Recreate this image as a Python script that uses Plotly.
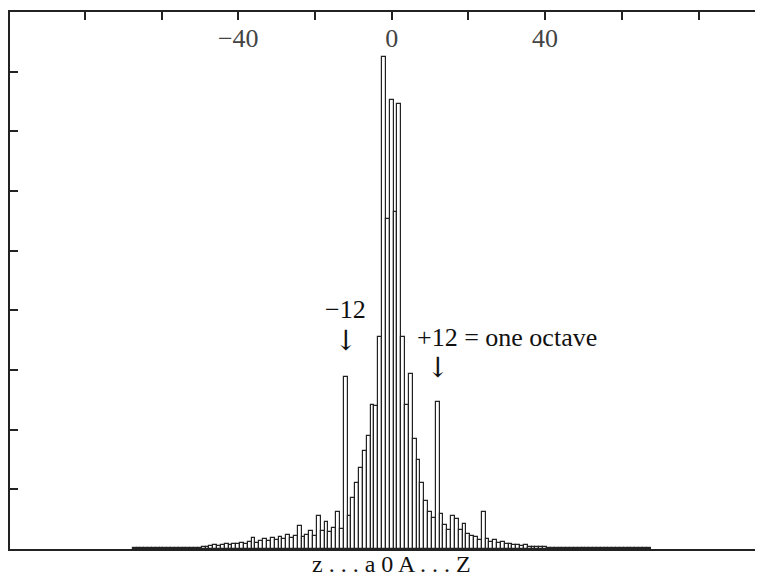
import plotly.graph_objects as go

# melodic interval (semitones) and how often it occurs
intervals = list(range(-67, 68))
counts = (
    [1, 1, 1, 1, 1, 1, 1, 1, 1, 1, 1, 1, 1, 1, 1, 2, 1, 2]            # -67..-50
    + [4, 3, 5, 6, 5, 7, 8, 7, 9, 8, 10, 9, 11]                       # -49..-37
    + [18, 10, 14, 16, 13, 18, 15, 20, 17, 24, 18, 22]                # -36..-25
    + [38, 20, 24, 30, 22, 55, 30, 45, 28, 36, 62, 34]                # -24..-13
    + [289, 55, 85, 110, 135, 165, 190, 242, 240, 356, 824, 553]      # -12..-1
    + [752, 565, 745, 356, 242, 293, 185, 150, 110, 80, 62, 52, 246]  # 0..12
    + [58, 40, 32, 55, 50, 32, 42, 25, 22, 20, 15, 62]                # 13..24
    + [16, 12, 15, 10, 12, 8, 9, 7, 6, 5, 6, 4, 4, 3, 3, 3]           # 25..40
    + [2, 2, 2, 1, 2, 1, 1, 1, 1, 1, 1]                               # 41..51
    + [1, 1, 1, 1, 1, 1, 1, 1, 1, 1, 1, 1, 1, 1, 1, 1]                # 52..67
)
assert len(counts) == len(intervals)

x_tickvals = [-80, -60, -40, -20, 0, 20, 40, 60, 80]
x_ticktext = ["", "", "\u221240", "", "0", "", "40", "", ""]
y_tickvals = [100, 200, 300, 400, 500, 600, 700, 800]

FONT = "Liberation Serif"
INK = "#222222"

fig = go.Figure(
    go.Bar(
        x=intervals,
        y=counts,
        width=1,
        marker=dict(color="white", line=dict(color=INK, width=1.2)),
        hoverinfo="x+y",
    )
)

fig.update_layout(
    width=763,
    height=580,
    margin=dict(l=2, r=0, t=4, b=39, autoexpand=False),
    paper_bgcolor="white",
    plot_bgcolor="white",
    bargap=0,
    showlegend=False,
    font=dict(family=FONT, size=26, color="#111111"),
    xaxis=dict(
        side="top",
        range=[-99.5, 98.9],
        tickmode="array",
        tickvals=x_tickvals,
        ticktext=x_ticktext,
        ticks="inside",
        ticklen=8,
        tickwidth=1.5,
        tickcolor=INK,
        ticklabelposition="inside",
        ticklabelstandoff=11,
        showline=True,
        linecolor=INK,
        linewidth=2,
        mirror=True,
        showgrid=False,
        zeroline=False,
        automargin=False,
        tickfont=dict(family=FONT, size=26),
    ),
    yaxis=dict(
        range=[0, 900],
        tickmode="array",
        tickvals=y_tickvals,
        ticks="inside",
        ticklen=8,
        tickwidth=1.5,
        tickcolor=INK,
        showticklabels=False,
        showline=True,
        linecolor=INK,
        linewidth=2,
        showgrid=False,
        zeroline=False,
        automargin=False,
    ),
    annotations=[
        dict(x=-12, y=402, text="\u221212", showarrow=False,
             font=dict(family=FONT, size=26), xanchor="center", yanchor="middle"),
        dict(x=-12, y=350, text="\u2193", showarrow=False,
             font=dict(family="DejaVu Serif", size=28, color="#111111"),
             xanchor="center", yanchor="middle"),
        dict(x=30.2, y=355, text="+12 = one octave", showarrow=False,
             font=dict(family=FONT, size=26), xanchor="center", yanchor="middle"),
        dict(x=12, y=305, text="\u2193", showarrow=False,
             font=dict(family="DejaVu Serif", size=28, color="#111111"),
             xanchor="center", yanchor="middle"),
        dict(x=0, y=0, xref="x", yref="paper", text="z . . . a 0 A . . . Z",
             showarrow=False, font=dict(family=FONT, size=24),
             xanchor="center", yanchor="top", yshift=0),
    ],
)

fig.write_html("out.html")
